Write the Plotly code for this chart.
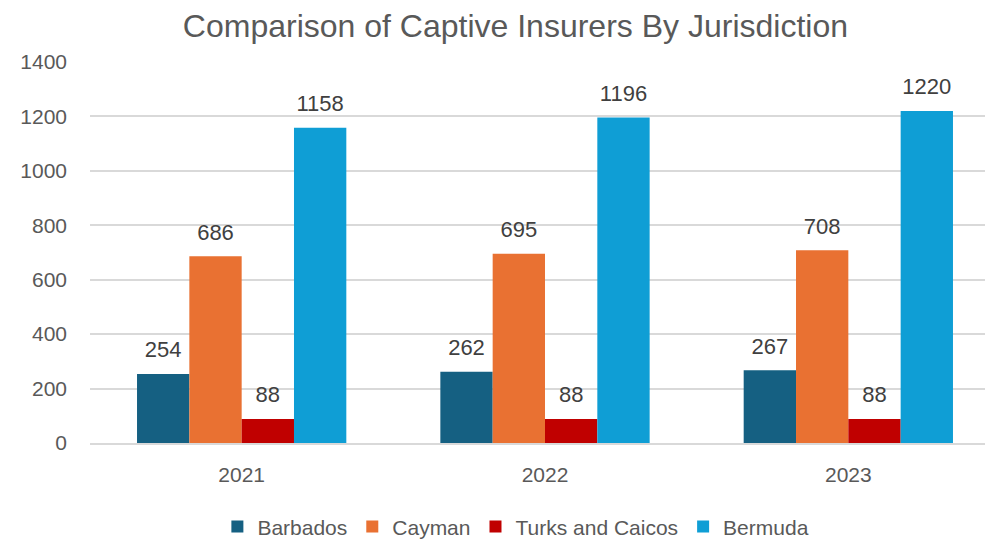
import plotly.graph_objects as go

years = ["2021", "2022", "2023"]
barbados = [254, 262, 267]
cayman = [686, 695, 708]
turks = [88, 88, 88]
bermuda = [1158, 1196, 1220]

series = [
    ("Barbados", barbados, "#156082"),
    ("Cayman", cayman, "#E97132"),
    ("Turks and Caicos", turks, "#C00000"),
    ("Bermuda", bermuda, "#0F9ED5"),
]

fig = go.Figure()
for name, vals, color in series:
    fig.add_trace(go.Bar(
        name=name, x=years, y=vals, marker_color=color,
        marker_line_width=0,
        text=vals,
        texttemplate="<span style='font-size:22px'>%{y}</span><br> ",
        textposition="outside",
        textfont=dict(size=9, color="#404040", family="Liberation Sans"),
        constraintext="none",
        cliponaxis=False,
    ))

fig.update_layout(
    width=993, height=541,
    paper_bgcolor="white", plot_bgcolor="white",
    margin=dict(l=82, r=1, t=54, b=106, autoexpand=False),
    barmode="group", bargap=0.31, bargroupgap=0,
    title=dict(text="Comparison of Captive Insurers By Jurisdiction",
               x=0.511, xanchor="center", yref="container", y=0.968, yanchor="middle",
               font=dict(size=32, color="#595959", family="Liberation Sans")),
    font=dict(family="Liberation Sans", color="#595959", size=21),
    yaxis=dict(range=[0, 1400], dtick=200, gridcolor="#D9D9D9", gridwidth=1.5,
               zeroline=False, showline=False, ticks="", ticklabelstandoff=22,
               automargin=False,
               tickfont=dict(size=21, color="#595959")),
    xaxis=dict(showline=True, linecolor="#D9D9D9", linewidth=1.5, ticks="",
               automargin=False, ticklabelstandoff=12,
               tickfont=dict(size=21, color="#595959")),
    legend=dict(orientation="h", x=0.468, xanchor="center", y=-0.22, yanchor="middle",
                font=dict(size=21, color="#595959"), itemwidth=30,
                traceorder="normal"),
    showlegend=True,
)

fig.write_html("out.html")
